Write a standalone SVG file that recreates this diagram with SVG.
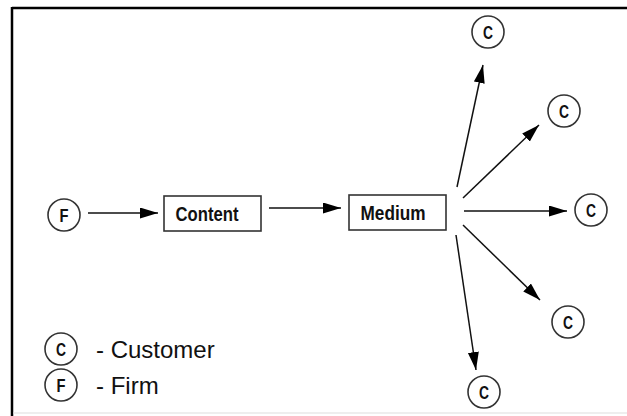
<svg xmlns="http://www.w3.org/2000/svg" width="627" height="416" viewBox="0 0 627 416">
  <defs>
    <marker id="ah" markerUnits="userSpaceOnUse" markerWidth="20" markerHeight="12" refX="18" refY="5.5" orient="auto">
      <path d="M0,0 L18,5.5 L0,11 Z" fill="#000"/>
    </marker>
  </defs>
  <style>
    .node ellipse { fill: #fff; stroke: #333; stroke-width: 1.6; }
    .node rect { fill: #fff; stroke: #333; stroke-width: 1.6; }
    .lt { font-family: "Liberation Sans Narrow", "Liberation Sans", Arial, sans-serif; font-weight: bold; font-size: 19px; fill: #111; text-anchor: middle; }
    .bt { font-family: "Liberation Sans Narrow", "Liberation Sans", Arial, sans-serif; font-weight: bold; font-size: 21px; fill: #111; text-anchor: middle; }
    .leg { font-family: "Liberation Sans", Arial, sans-serif; font-size: 24px; fill: #111; }
    .conn line { stroke: #111; stroke-width: 1.5; marker-end: url(#ah); }
  </style>
  <rect x="0" y="0" width="627" height="416" fill="#fff"/>
  <line x1="12" y1="8" x2="627" y2="8" stroke="#000" stroke-width="2.5"/>
  <line x1="12" y1="7" x2="12" y2="416" stroke="#000" stroke-width="2.5"/>
  <line x1="13" y1="413" x2="627" y2="413" stroke="#ddd" stroke-width="1"/>

  <g id="connectors" class="conn">
    <line x1="88" y1="213" x2="158" y2="213"/>
    <line x1="269" y1="208" x2="341" y2="208"/>
    <line x1="457" y1="187" x2="483" y2="65"/>
    <line x1="463" y1="198" x2="539" y2="125"/>
    <line x1="464" y1="211" x2="567" y2="211"/>
    <line x1="463" y1="225" x2="540" y2="300"/>
    <line x1="456" y1="235" x2="476" y2="370"/>
  </g>

  <g id="firm" class="node">
    <ellipse cx="64" cy="215" rx="16" ry="16"/>
    <text class="lt" x="64" y="222" textLength="9" lengthAdjust="spacingAndGlyphs">F</text>
  </g>
  <g id="content" class="node">
    <rect x="164" y="196" width="97" height="35"/>
    <text class="bt" x="207" y="221" textLength="63" lengthAdjust="spacingAndGlyphs">Content</text>
  </g>
  <g id="medium" class="node">
    <rect x="349" y="195" width="97" height="35"/>
    <text class="bt" x="393" y="219.5" textLength="65" lengthAdjust="spacingAndGlyphs">Medium</text>
  </g>
  <g id="customer1" class="node">
    <ellipse cx="488" cy="32" rx="16" ry="16"/>
    <text class="lt" x="488" y="39" textLength="10" lengthAdjust="spacingAndGlyphs">C</text>
  </g>
  <g id="customer2" class="node">
    <ellipse cx="564" cy="111" rx="16" ry="16"/>
    <text class="lt" x="564" y="118" textLength="10" lengthAdjust="spacingAndGlyphs">C</text>
  </g>
  <g id="customer3" class="node">
    <ellipse cx="591" cy="210" rx="16" ry="16"/>
    <text class="lt" x="591" y="217" textLength="10" lengthAdjust="spacingAndGlyphs">C</text>
  </g>
  <g id="customer4" class="node">
    <ellipse cx="568" cy="322" rx="16" ry="16"/>
    <text class="lt" x="568" y="329" textLength="10" lengthAdjust="spacingAndGlyphs">C</text>
  </g>
  <g id="customer5" class="node">
    <ellipse cx="484" cy="392" rx="16" ry="16"/>
    <text class="lt" x="484" y="399" textLength="10" lengthAdjust="spacingAndGlyphs">C</text>
  </g>

  <g id="legend-customer" class="node">
    <ellipse cx="61" cy="349" rx="16" ry="16"/>
    <text class="lt" x="61" y="356" textLength="10" lengthAdjust="spacingAndGlyphs">C</text>
    <text class="leg" x="96" y="358">- Customer</text>
  </g>
  <g id="legend-firm" class="node">
    <ellipse cx="61" cy="385" rx="16" ry="16"/>
    <text class="lt" x="61" y="392" textLength="9" lengthAdjust="spacingAndGlyphs">F</text>
    <text class="leg" x="96" y="394">- Firm</text>
  </g>
</svg>
